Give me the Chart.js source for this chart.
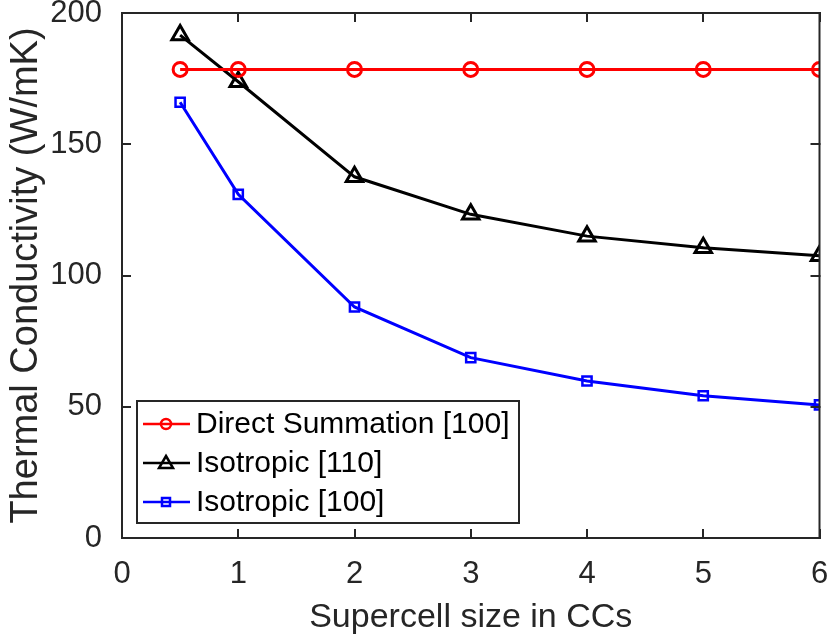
<!DOCTYPE html>
<html>
<head>
<meta charset="utf-8">
<script src="https://cdn.jsdelivr.net/npm/chart.js@4.4.1/dist/chart.umd.min.js"></script>
<style>
  html, body { margin: 0; padding: 0; background: #fff; }
  #wrap { width: 832px; height: 640px; }
</style>
</head>
<body>
<div id="wrap"><canvas id="c" width="832" height="640"></canvas></div>
<script>
// Supercell sizes (in conventional cells) and thermal conductivity (W/mK)
const supercellSizes = [0.5, 1, 2, 3, 4, 5, 6];
const directSummation100 = [178.5, 178.5, 178.5, 178.5, 178.5, 178.5, 178.5];
const isotropic110 = [191.6, 173.8, 137.6, 123.3, 115.0, 110.6, 107.5];
const isotropic100 = [166.0, 130.9, 88.0, 68.7, 59.8, 54.2, 50.7];
const xTicks = [0, 1, 2, 3, 4, 5, 6];
const yTicks = [0, 50, 100, 150, 200];
const seriesLabels = ['Direct Summation [100]', 'Isotropic [110]', 'Isotropic [100]'];

const FONT = '"Liberation Sans", Arial, Helvetica, sans-serif';
const AXIS_COLOR = '#262626';

function points(values) {
  return supercellSizes.map((x, i) => ({ x: x, y: values[i] }));
}

// Box frame with inward tick marks on all four sides
const framePlugin = {
  id: 'frame',
  afterDatasetsDraw(chart) {
    const { ctx, chartArea: a, scales } = chart;
    ctx.save();
    ctx.strokeStyle = AXIS_COLOR;
    ctx.lineWidth = 2;
    ctx.lineCap = 'square';
    ctx.strokeRect(a.left, a.top, a.right - a.left, a.bottom - a.top);
    const len = 8;
    ctx.beginPath();
    xTicks.forEach(v => {
      const px = Math.round(scales.x.getPixelForValue(v));
      ctx.moveTo(px, a.bottom); ctx.lineTo(px, a.bottom - len);
      ctx.moveTo(px, a.top); ctx.lineTo(px, a.top + len);
    });
    yTicks.forEach(v => {
      const py = Math.round(scales.y.getPixelForValue(v));
      ctx.moveTo(a.left, py); ctx.lineTo(a.left + len, py);
      ctx.moveTo(a.right, py); ctx.lineTo(a.right - len, py);
    });
    ctx.stroke();
    ctx.restore();
  }
};

// Legend box in the lower-left corner of the plot area
const legendBoxPlugin = {
  id: 'legendBox',
  afterDraw(chart) {
    const { ctx, chartArea: a } = chart;
    const x0 = a.left + 15, y0 = 401, w = 382, h = 122;
    ctx.save();
    ctx.fillStyle = '#fff';
    ctx.fillRect(x0, y0, w, h);
    ctx.strokeStyle = AXIS_COLOR;
    ctx.lineWidth = 2;
    ctx.strokeRect(x0, y0, w, h);
    chart.data.datasets.forEach((ds, i) => {
      const cy = y0 + 23 + i * 39;
      ctx.strokeStyle = ds.borderColor;
      ctx.lineWidth = 2.5;
      ctx.beginPath();
      ctx.moveTo(x0 + 6, cy); ctx.lineTo(x0 + 53, cy);
      ctx.stroke();
      const mx = x0 + 29;
      ctx.beginPath();
      if (ds.pointStyle === 'circle') {
        ctx.arc(mx, cy, 5, 0, Math.PI * 2);
      } else if (ds.pointStyle === 'triangle') {
        ctx.moveTo(mx, cy - 7); ctx.lineTo(mx + 7, cy + 5); ctx.lineTo(mx - 7, cy + 5); ctx.closePath();
      } else {
        ctx.rect(mx - 4, cy - 4, 8, 8);
      }
      ctx.stroke();
      ctx.fillStyle = '#000';
      ctx.font = '30px ' + FONT;
      ctx.textBaseline = 'middle';
      ctx.textAlign = 'left';
      ctx.fillText(ds.label, x0 + 59, cy + 1);
    });
    ctx.restore();
  }
};

new Chart(document.getElementById('c'), {
  type: 'line',
  data: {
    datasets: [
      {
        label: seriesLabels[0],
        data: points(directSummation100),
        borderColor: '#ff0000',
        backgroundColor: 'rgba(0,0,0,0)',
        pointStyle: 'circle',
        pointRadius: 7,
        pointBorderWidth: 3,
        borderWidth: 3
      },
      {
        label: seriesLabels[1],
        data: points(isotropic110),
        borderColor: '#000000',
        backgroundColor: 'rgba(0,0,0,0)',
        pointStyle: 'triangle',
        pointRadius: 9.5,
        pointBorderWidth: 3,
        borderWidth: 3
      },
      {
        label: seriesLabels[2],
        data: points(isotropic100),
        borderColor: '#0000ff',
        backgroundColor: 'rgba(0,0,0,0)',
        pointStyle: 'rect',
        pointRadius: 6.5,
        pointBorderWidth: 2.5,
        borderWidth: 3
      }
    ]
  },
  options: {
    responsive: false,
    animation: false,
    layout: { padding: { top: 13, right: 10, left: 0, bottom: 0 } },
    plugins: {
      legend: { display: false },
      tooltip: { enabled: false }
    },
    scales: {
      x: {
        type: 'linear',
        min: 0, max: 6,
        afterBuildTicks(scale) { scale.ticks = xTicks.map(v => ({ value: v })); },
        afterFit(scale) {
          scale.height = 102;
          scale.paddingLeft = 0; scale.paddingRight = 0;
        },
        grid: { display: false },
        border: { display: false },
        ticks: {
          color: AXIS_COLOR,
          font: { family: FONT, size: 31 },
          padding: 10,
          maxRotation: 0
        },
        title: {
          display: true,
          text: 'Supercell size in CCs',
          color: AXIS_COLOR,
          font: { family: FONT, size: 34 },
          padding: { top: 0, bottom: 2 }
        }
      },
      y: {
        type: 'linear',
        min: 0, max: 200,
        afterBuildTicks(scale) { scale.ticks = yTicks.map(v => ({ value: v })); },
        afterFit(scale) {
          scale.width = 122;
          scale.paddingTop = 0; scale.paddingBottom = 0;
        },
        grid: { display: false },
        border: { display: false },
        ticks: {
          color: AXIS_COLOR,
          font: { family: FONT, size: 31 },
          padding: 12
        },
        title: {
          display: true,
          text: 'Thermal Conductivity (W/mK)',
          color: AXIS_COLOR,
          font: { family: FONT, size: 38 },
          padding: { top: 4, bottom: 0 }
        }
      }
    }
  },
  plugins: [framePlugin, legendBoxPlugin]
});
</script>
</body>
</html>
